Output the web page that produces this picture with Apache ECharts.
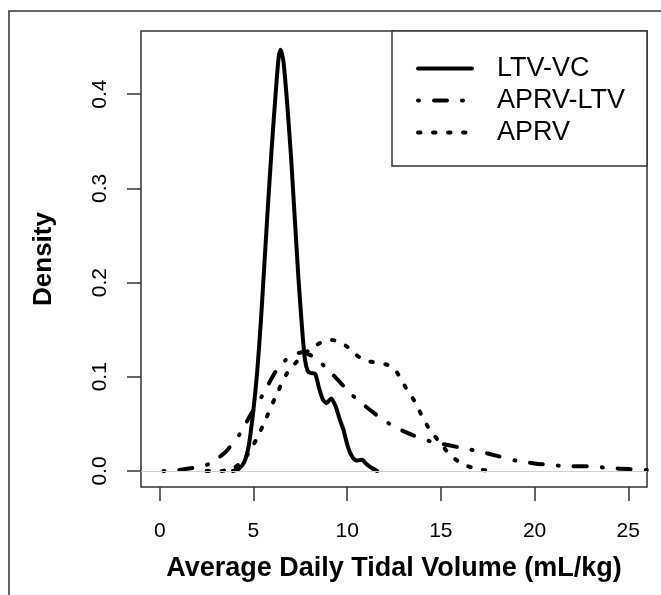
<!DOCTYPE html>
<html>
<head>
<meta charset="utf-8">
<title>Density of average daily tidal volume</title>
<script src="https://cdn.jsdelivr.net/npm/echarts@6/dist/echarts.min.js"></script>
<style>
  html, body { margin: 0; padding: 0; background: #fff; }
  #chart { width: 661px; height: 595px; }
</style>
</head>
<body>
<div id="chart"></div>
<script>
// series (x = mL/kg, y = density)
var ltvX = [3.9, 4.2, 4.5, 4.75, 5.0, 5.2, 5.4, 5.6, 5.8, 6.0, 6.2, 6.35, 6.45, 6.6, 6.8, 7.0, 7.2, 7.4, 7.6, 7.75, 7.9, 8.05, 8.3, 8.5, 8.7, 8.9, 9.15, 9.4, 9.6, 9.8, 10.05, 10.3, 10.5, 10.8, 11.0, 11.25, 11.6];
var ltvY = [0, 0.002, 0.009, 0.027, 0.065, 0.105, 0.16, 0.225, 0.29, 0.35, 0.405, 0.44, 0.447, 0.435, 0.39, 0.335, 0.27, 0.205, 0.15, 0.118, 0.106, 0.104, 0.103, 0.088, 0.076, 0.072, 0.077, 0.068, 0.055, 0.044, 0.025, 0.014, 0.011, 0.012, 0.008, 0.004, 0];

var aprvLtvX = [0.2, 1.0, 2.0, 2.7, 3.2, 3.6, 4.3, 4.8, 5.5, 6.2, 6.9, 7.6, 8.3, 9.2, 10.3, 11.6, 12.5, 13.5, 14.5, 15.0, 16.0, 17.0, 18.0, 19.0, 20.0, 21.0, 22.0, 23.0, 24.0, 25.0, 26.0];
var aprvLtvY = [0, 0.001, 0.004, 0.008, 0.015, 0.022, 0.04, 0.058, 0.081, 0.106, 0.121, 0.126, 0.12, 0.103, 0.08, 0.059, 0.047, 0.038, 0.031, 0.029, 0.025, 0.021, 0.016, 0.011, 0.008, 0.006, 0.005, 0.005, 0.003, 0.002, 0.001];

var aprvX = [2.5, 3.3, 3.9, 4.3, 4.7, 5.2, 5.7, 6.25, 6.8, 7.5, 8.2, 8.8, 9.2, 9.6, 10.0, 10.5, 11.0, 11.6, 12.1, 12.5, 12.8, 13.2, 13.6, 14.0, 14.4, 15.0, 15.5, 16.1, 16.9, 17.8];
var aprvY = [0, 0, 0.003, 0.008, 0.018, 0.035, 0.057, 0.082, 0.104, 0.12, 0.132, 0.138, 0.139, 0.137, 0.132, 0.123, 0.117, 0.115, 0.113, 0.109, 0.1, 0.086, 0.074, 0.058, 0.044, 0.029, 0.017, 0.008, 0.002, 0];

var xTicks = [0, 5, 10, 15, 20, 25];
var yTicks = [0, 0.1, 0.2, 0.3, 0.4];

function pairs(xs, ys) {
    var res = [];
    for (let i = 0; i < xs.length; ++i) res.push([xs[i], ys[i]]);
    return res;
}

var chart = echarts.init(document.getElementById('chart'));
var font = 'Liberation Sans, Arial, sans-serif';

// R style line types
var solid = { color: '#000', width: 4, type: 'solid', cap: 'round', join: 'round' };
var dotdash = { color: '#000', width: 4, type: [1, 15, 13, 15], cap: 'round', join: 'round' };
var dotted = { color: '#000', width: 4, type: [2.5, 12.5], cap: 'round', join: 'round' };

var option = {
    animation: false,
    backgroundColor: '#fff',
    grid: {
        left: 141, top: 31, width: 506, height: 456,
        show: true, borderColor: '#333', borderWidth: 1.5
    },
    xAxis: {
        type: 'value', min: -1, max: 26,
        name: 'Average Daily Tidal Volume (mL/kg)',
        nameLocation: 'middle', nameGap: 68,
        nameTextStyle: { fontFamily: font, fontSize: 27, fontWeight: 'bold', color: '#000' },
        axisLine: { show: false, onZero: false },
        axisTick: { show: true, length: 14, customValues: xTicks, lineStyle: { color: '#333', width: 1.5 } },
        axisLabel: { customValues: xTicks, margin: 34, fontFamily: font, fontSize: 21, color: '#000' },
        splitLine: { show: false }
    },
    yAxis: {
        type: 'value', min: -0.017, max: 0.467,
        name: 'Density',
        nameLocation: 'middle', nameGap: 84,
        nameTextStyle: { fontFamily: font, fontSize: 26, fontWeight: 'bold', color: '#000' },
        axisLine: { show: false, onZero: false },
        axisTick: { show: true, length: 14, customValues: yTicks, lineStyle: { color: '#333', width: 1.5 } },
        axisLabel: {
            customValues: yTicks, rotate: 90, margin: 30,
            fontFamily: font, fontSize: 21, color: '#000',
            formatter: function (v) { return v.toFixed(1); }
        },
        splitLine: { show: false }
    },
    legend: {
        orient: 'vertical',
        left: 392, top: 31,
        padding: [24, 10, 20, 24],
        itemWidth: 54, itemHeight: 14, itemGap: 5,
        itemStyle: { opacity: 0 },
        textStyle: { fontFamily: font, fontSize: 27, color: '#000', lineHeight: 27, padding: [0, 0, 0, 20] },
        data: [
            { name: 'LTV-VC', lineStyle: solid },
            { name: 'APRV-LTV', lineStyle: dotdash },
            { name: 'APRV', lineStyle: dotted }
        ]
    },
    graphic: [
        { type: 'rect', shape: { x: 9, y: 11, width: 720, height: 720 }, style: { fill: 'none', stroke: '#333', lineWidth: 1.5 }, z: -10, silent: true },
        { type: 'rect', shape: { x: 392, y: 31, width: 255, height: 135 }, style: { fill: '#fff', stroke: '#333', lineWidth: 1.5 }, z: 1, silent: true }
    ],
    series: [
        {
            name: 'LTV-VC', type: 'line', symbol: 'none', smooth: 0.2,
            data: pairs(ltvX, ltvY),
            lineStyle: solid,
            itemStyle: { color: '#000' },
            markLine: {
                silent: true, symbol: 'none', label: { show: false },
                lineStyle: { color: '#d0d0d0', width: 1.2, type: 'solid' },
                data: [{ yAxis: 0 }]
            },
            z: 3
        },
        {
            name: 'APRV-LTV', type: 'line', symbol: 'none', smooth: 0.2,
            data: pairs(aprvLtvX, aprvLtvY),
            lineStyle: dotdash,
            itemStyle: { color: '#000' },
            z: 3
        },
        {
            name: 'APRV', type: 'line', symbol: 'none', smooth: 0.2,
            data: pairs(aprvX, aprvY),
            lineStyle: dotted,
            itemStyle: { color: '#000' },
            z: 3
        }
    ]
};
chart.setOption(option);
</script>
</body>
</html>
